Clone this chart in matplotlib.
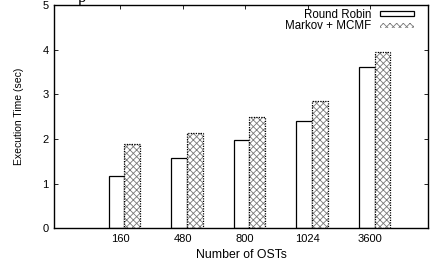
import matplotlib
matplotlib.use("Agg")
import matplotlib.pyplot as plt
from matplotlib.patches import Patch
import numpy as np

plt.rcParams['font.family'] = ['Liberation Sans', 'DejaVu Sans']
plt.rcParams['hatch.linewidth'] = 0.6

osts = ['160', '480', '800', '1024', '3600']
round_robin = [1.17, 1.58, 1.98, 2.40, 3.61]
markov_mcmf = [1.88, 2.14, 2.50, 2.86, 3.95]

W, H = 433, 263
fig = plt.figure(figsize=(W / 100, H / 100), dpi=100)
ax = fig.add_axes([54.3 / W, 1 - 228.3 / H, (428.3 - 54.3) / W, (228.3 - 5) / H])

x = np.arange(1, len(osts) + 1)
bw = 0.25
hatch_col = '#7a7a7a'

ax.bar(x - 0.055, round_robin, bw, color='white', edgecolor='black', linewidth=0.9,
       label='Round Robin', zorder=2)
# patterned bars: gray crosshatch + dotted black outline
ax.bar(x + 0.195, markov_mcmf, bw, color='white', edgecolor=hatch_col, hatch='xxxxx',
       linewidth=0, zorder=2)
ax.bar(x + 0.195, markov_mcmf, bw, fill=False, edgecolor='black', linewidth=0.9,
       linestyle=(0, (1, 1)), zorder=3)

ax.set_xlim(-0.05, 5.93)
ax.set_ylim(0, 5)
ax.set_xticks(x)
ax.set_xticklabels(osts)
ax.set_yticks(range(6))
ax.tick_params(direction='in', length=3, width=0.6, labelsize=8, top=True, right=True, pad=4)
for s in ax.spines.values():
    s.set_linewidth(1.0)

ax.set_xlabel('Number of OSTs', fontsize=8.8, labelpad=4)
ax.set_ylabel('Execution Time (sec)', fontsize=7.5, labelpad=13)

h1 = Patch(facecolor='white', edgecolor='black', linewidth=0.9)
h2 = Patch(facecolor='white', edgecolor=hatch_col, hatch='xxxxx', linewidth=0)
leg = ax.legend([h1, h2], ['Round Robin', 'Markov + MCMF'], loc='upper right',
                bbox_to_anchor=(1 - 14 / 374, 1 - 3.5 / 223),
                frameon=False, markerfirst=False, fontsize=8.3, handlelength=3.0,
                handleheight=0.32, labelspacing=-0.02, handletextpad=0.75,
                borderaxespad=0, borderpad=0)

# cropped caption fragment at the very top
fig.text(78 / W, 1 - 1.5 / H, 'p', family='Liberation Serif', fontsize=12, va='baseline')

fig.savefig('out.png', dpi=100)
